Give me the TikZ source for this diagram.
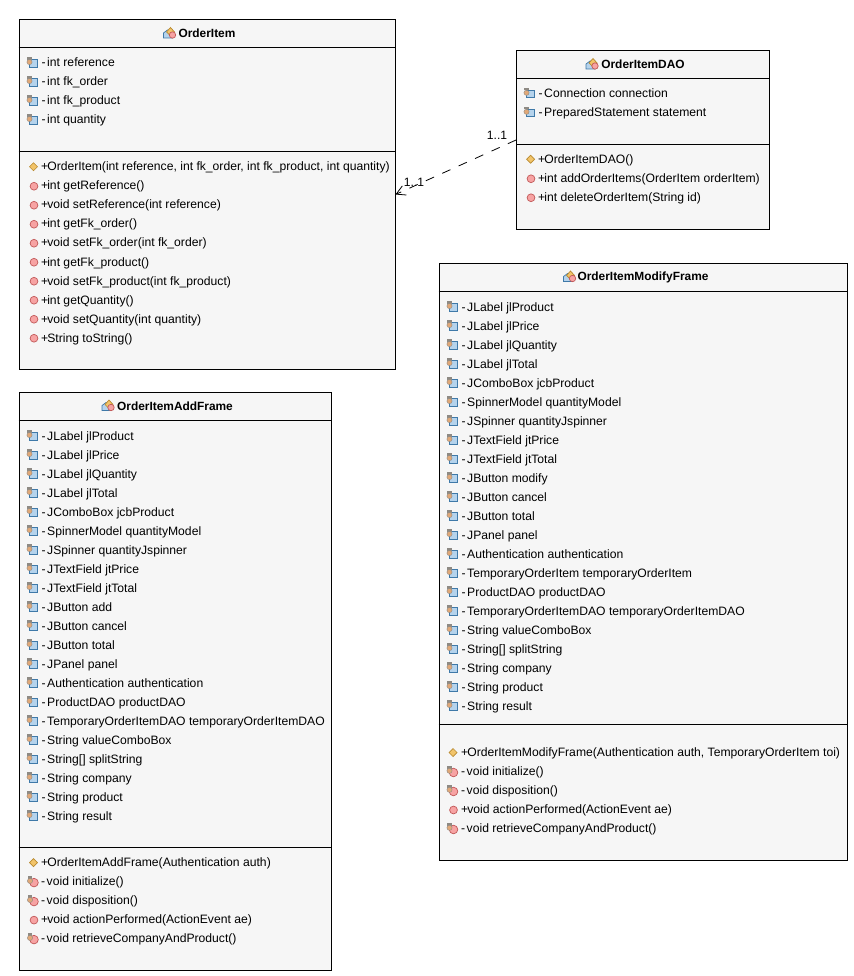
\documentclass[tikz,border=0pt]{standalone}
\usepackage{fontspec}
\setmainfont{Liberation Sans}
\usetikzlibrary{arrows.meta}

\definecolor{boxfill}{HTML}{F6F6F6}
\definecolor{lockgrey}{HTML}{8E8A84}
\definecolor{lockface}{HTML}{E0A878}
\definecolor{fieldblue}{HTML}{B5D3EC}
\definecolor{fieldedge}{HTML}{3F79A8}
\definecolor{methodred}{HTML}{F7A3A3}
\definecolor{methodedge}{HTML}{C25A5A}
\definecolor{ctoryellow}{HTML}{F2C46A}
\definecolor{ctoredge}{HTML}{B98A30}

\newcommand{\pubmark}{+\kern-1pt}
\newcommand{\privmark}{-\kern1.5pt}

\tikzset{
  classbox/.style={draw=black, fill=boxfill, line width=0.9pt, inner sep=0pt, rectangle},
  divider/.style={draw=black, line width=0.9pt},
  member/.style={anchor=west, inner sep=0pt, text height=8.5pt, text depth=0pt, font=\fontsize{12.15}{14}\selectfont},
  classname/.style={inner sep=0pt, font=\fontsize{11.9}{14}\selectfont\bfseries},
  mult/.style={inner sep=0pt, font=\fontsize{12.1}{14}\selectfont},
  depend/.style={draw=black, line width=0.8pt, dash pattern=on 9pt off 9pt, -{Straight Barb[length=9pt,width=10pt]}},
  pics/lockhead/.style={code={
    \fill[lockgrey] (-2.2, -4.5) rectangle (2.2, -2);
    \fill[lockface, draw=lockgrey, line width=0.4pt] (0, 0.3) circle (2.6);
  }},
  pics/fieldicon/.style={code={
    \draw[fieldedge, fill=fieldblue, line width=0.7pt] (-3.5, -3) rectangle (4.5, 4.2);
    \pic at (-3.5, -1) {lockhead};
  }},
  pics/pubicon/.style={code={
    \draw[methodedge, fill=methodred, line width=0.7pt] (0.5, 0.5) circle (3.9);
  }},
  pics/privicon/.style={code={
    \draw[methodedge, fill=methodred, line width=0.7pt] (0.5, 1) circle (4.3);
    \pic at (-3.5, -1) {lockhead};
  }},
  pics/ctoricon/.style={code={
    \draw[ctoredge, fill=ctoryellow, line width=0.7pt] (-4, 0) -- (0, -4) -- (4, 0) -- (0, 4) -- cycle;
  }},
  pics/titleicon/.style={code={
    \draw[fieldedge, fill=fieldblue, line width=0.7pt] (-6, 0) -- (-2, -3) -- (3, -3) -- (3, 5) -- (-6, 5) -- cycle;
    \draw[ctoredge, fill=ctoryellow, line width=0.7pt] (-3, -1) -- (1, -5.5) -- (5, -1) -- (1, 3) -- cycle;
    \draw[methodedge, fill=methodred, line width=0.7pt] (3, 2) circle (3.2);
  }}
}

\begin{document}
\begin{tikzpicture}[x=1pt, y=-1pt]
  \useasboundingbox (0, 0) rectangle (853, 976);

  % OrderItem
  \node[classbox, minimum width=376pt, minimum height=350pt] (orderitem) at (207, 194.5) {};
  \draw[divider] (orderitem.west |- 0, 47.5) -- (orderitem.east |- 0, 47.5);
  \draw[divider] (orderitem.west |- 0, 151.5) -- (orderitem.east |- 0, 151.5);
  \node[classname] (orderitemname) at (207, 33.5) {OrderItem};
  \pic at (169.5, 33) {titleicon};
  \foreach \txt [count=\i from 0] in {int reference, int fk\_order, int fk\_product, int quantity} {
    \pgfmathsetmacro\rowy{62.75 + 19 * \i}
    \pic at (33, \rowy) {fieldicon};
    \node[member] (itemfield\i) at (41.5, \rowy) {\privmark\txt};
  }
  \foreach \kind/\txt [count=\i from 0] in {
    ctoricon/{\pubmark OrderItem(int reference, int fk\_order, int fk\_product, int quantity)},
    pubicon/{\pubmark int getReference()},
    pubicon/{\pubmark void setReference(int reference)},
    pubicon/{\pubmark int getFk\_order()},
    pubicon/{\pubmark void setFk\_order(int fk\_order)},
    pubicon/{\pubmark int getFk\_product()},
    pubicon/{\pubmark void setFk\_product(int fk\_product)},
    pubicon/{\pubmark int getQuantity()},
    pubicon/{\pubmark void setQuantity(int quantity)},
    pubicon/{\pubmark String toString()}} {
    \pgfmathsetmacro\rowy{166.75 + 19 * \i}
    \pic at (33.5, \rowy) {\kind};
    \node[member] (itemop\i) at (41, \rowy) {\txt};
  }

  % OrderItemDAO
  \node[classbox, minimum width=253pt, minimum height=179pt] (orderitemdao) at (643, 140) {};
  \draw[divider] (orderitemdao.west |- 0, 78.5) -- (orderitemdao.east |- 0, 78.5);
  \draw[divider] (orderitemdao.west |- 0, 144.5) -- (orderitemdao.east |- 0, 144.5);
  \node[classname] (orderitemdaoname) at (643, 64) {OrderItemDAO};
  \pic at (592, 64) {titleicon};
  \foreach \txt [count=\i from 0] in {Connection connection, PreparedStatement statement} {
    \pgfmathsetmacro\rowy{93.5 + 19 * \i}
    \pic at (530, \rowy) {fieldicon};
    \node[member] (daofield\i) at (538.5, \rowy) {\privmark\txt};
  }
  \foreach \kind/\txt [count=\i from 0] in {
    ctoricon/{\pubmark OrderItemDAO()},
    pubicon/{\pubmark int addOrderItems(OrderItem orderItem)},
    pubicon/{\pubmark int deleteOrderItem(String id)}} {
    \pgfmathsetmacro\rowy{159.25 + 19 * \i}
    \pic at (530.5, \rowy) {\kind};
    \node[member] (daoop\i) at (538, \rowy) {\txt};
  }

  % OrderItemModifyFrame
  \node[classbox, minimum width=408pt, minimum height=597pt] (modifyframe) at (643, 561.5) {};
  \draw[divider] (modifyframe.west |- 0, 291.5) -- (modifyframe.east |- 0, 291.5);
  \draw[divider] (modifyframe.west |- 0, 724.5) -- (modifyframe.east |- 0, 724.5);
  \node[classname] (modifyframename) at (643, 277.5) {OrderItemModifyFrame};
  \pic at (569.5, 276.5) {titleicon};
  \foreach \txt [count=\i from 0] in {JLabel jlProduct, JLabel jlPrice, JLabel jlQuantity, JLabel jlTotal,
    JComboBox jcbProduct, SpinnerModel quantityModel, JSpinner quantityJspinner, JTextField jtPrice,
    JTextField jtTotal, JButton modify, JButton cancel, JButton total, JPanel panel,
    Authentication authentication, TemporaryOrderItem temporaryOrderItem, ProductDAO productDAO,
    TemporaryOrderItemDAO temporaryOrderItemDAO, String valueComboBox, String[] splitString,
    String company, String product, String result} {
    \pgfmathsetmacro\rowy{306.75 + 19 * \i}
    \pic at (453, \rowy) {fieldicon};
    \node[member] (modifyfield\i) at (461.5, \rowy) {\privmark\txt};
  }
  \foreach \kind/\txt [count=\i from 0] in {
    ctoricon/{\pubmark OrderItemModifyFrame(Authentication auth, TemporaryOrderItem toi)},
    privicon/{\privmark void initialize()},
    privicon/{\privmark void disposition()},
    pubicon/{\pubmark void actionPerformed(ActionEvent ae)},
    privicon/{\privmark void retrieveCompanyAndProduct()}} {
    \pgfmathsetmacro\rowy{752.5 + 19 * \i}
    \pic at (453, \rowy) {\kind};
    \node[member] (modifyop\i) at (461, \rowy) {\txt};
  }

  % OrderItemAddFrame
  \node[classbox, minimum width=312pt, minimum height=578pt] (addframe) at (175, 681) {};
  \draw[divider] (addframe.west |- 0, 420.5) -- (addframe.east |- 0, 420.5);
  \draw[divider] (addframe.west |- 0, 847.5) -- (addframe.east |- 0, 847.5);
  \node[classname] (addframename) at (175, 406.5) {OrderItemAddFrame};
  \pic at (108, 405.5) {titleicon};
  \foreach \txt [count=\i from 0] in {JLabel jlProduct, JLabel jlPrice, JLabel jlQuantity, JLabel jlTotal,
    JComboBox jcbProduct, SpinnerModel quantityModel, JSpinner quantityJspinner, JTextField jtPrice,
    JTextField jtTotal, JButton add, JButton cancel, JButton total, JPanel panel,
    Authentication authentication, ProductDAO productDAO,
    TemporaryOrderItemDAO temporaryOrderItemDAO, String valueComboBox, String[] splitString,
    String company, String product, String result} {
    \pgfmathsetmacro\rowy{435.75 + 19 * \i}
    \pic at (33, \rowy) {fieldicon};
    \node[member] (addfield\i) at (41.5, \rowy) {\privmark\txt};
  }
  \foreach \kind/\txt [count=\i from 0] in {
    ctoricon/{\pubmark OrderItemAddFrame(Authentication auth)},
    privicon/{\privmark void initialize()},
    privicon/{\privmark void disposition()},
    pubicon/{\pubmark void actionPerformed(ActionEvent ae)},
    privicon/{\privmark void retrieveCompanyAndProduct()}} {
    \pgfmathsetmacro\rowy{862.6 + 19 * \i}
    \pic at (33.5, \rowy) {\kind};
    \node[member] (addop\i) at (41, \rowy) {\txt};
  }

  % association
  \draw[depend] (orderitemdao.west) -- (orderitem.east);
  \node[mult] (multdao) at (497, 135) {1..1};
  \node[mult] (multitem) at (414, 182) {1..1};
\end{tikzpicture}
\end{document}
